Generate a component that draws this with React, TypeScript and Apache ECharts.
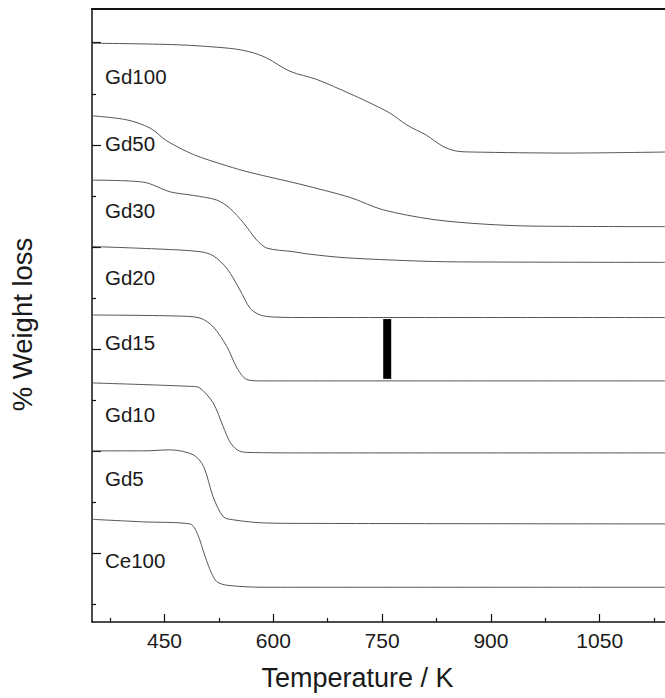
import React, { useEffect, useRef } from "react";
import * as echarts from "echarts";

// Temperature (K) vs. stacked, offset weight-loss traces (arbitrary units)
const gd100: [number, number][] = [[350, 11.33], [467, 11.3], [540, 11.23], [568, 11.16], [591, 11.04], [623, 10.78], [660, 10.62], [706, 10.34], [729, 10.19], [761, 9.96], [784, 9.73], [811, 9.53], [834, 9.31], [852, 9.22], [875, 9.2], [1004, 9.18], [1140, 9.2]];
const gd50: [number, number][] = [[350, 9.91], [398, 9.83], [430, 9.67], [453, 9.42], [490, 9.15], [536, 8.93], [568, 8.8], [637, 8.57], [706, 8.31], [751, 8.07], [820, 7.88], [889, 7.79], [958, 7.75], [1140, 7.74]];
const gd30: [number, number][] = [[350, 8.65], [421, 8.61], [458, 8.42], [490, 8.35], [522, 8.26], [540, 8.1], [559, 7.81], [577, 7.48], [591, 7.32], [627, 7.25], [650, 7.2], [700, 7.13], [792, 7.07], [852, 7.05], [1140, 7.04]];
const gd20: [number, number][] = [[350, 7.35], [444, 7.3], [499, 7.25], [517, 7.17], [536, 6.92], [554, 6.5], [568, 6.14], [582, 6.01], [600, 5.97], [650, 5.96], [1140, 5.96]];
const gd15: [number, number][] = [[350, 6.01], [467, 5.99], [499, 5.95], [517, 5.78], [536, 5.39], [550, 4.97], [563, 4.75], [582, 4.72], [1140, 4.72]];
const gd10: [number, number][] = [[350, 4.68], [490, 4.61], [499, 4.58], [517, 4.29], [531, 3.82], [540, 3.53], [550, 3.37], [563, 3.32], [650, 3.31], [1140, 3.31]];
const gd5: [number, number][] = [[350, 3.35], [421, 3.35], [458, 3.37], [490, 3.27], [504, 3.04], [517, 2.45], [531, 2.06], [545, 2.0], [586, 1.94], [650, 1.93], [1140, 1.92]];
const ce100: [number, number][] = [[350, 2.01], [421, 1.96], [485, 1.92], [495, 1.74], [506, 1.28], [515, 0.95], [522, 0.79], [536, 0.72], [586, 0.68], [1140, 0.68]];
const scaleBar: [number, number][] = [[757, 4.76], [757, 5.93]];

const seriesNames = ["Gd100", "Gd50", "Gd30", "Gd20", "Gd15", "Gd10", "Gd5", "Ce100"];
const seriesData = [gd100, gd50, gd30, gd20, gd15, gd10, gd5, ce100];

const xMajorTicks = [450, 600, 750, 900, 1050];
const xMinorTicks = [375, 525, 675, 825, 975, 1125];
const yMajorTicks = [1.34, 3.34, 5.34, 7.34, 9.34, 11.34];
const yMinorTicks = [0.34, 2.34, 4.34, 6.34, 8.34, 10.34];

const labelTops = [78, 145, 212, 279, 344, 416, 480, 562];

const FONT = "'Liberation Sans', Arial, Helvetica, sans-serif";

export default function App() {
  const ref = useRef<HTMLDivElement>(null);
  useEffect(() => {
    if (!ref.current) return;
    const chart = echarts.init(ref.current, null, { renderer: "svg" });
    const axisLine = { show: true, lineStyle: { color: "#111", width: 1.5 } };
    const xBase = { type: "value", min: 350, max: 1140, splitLine: { show: false } };
    const yBase = { type: "value", min: 0, max: 12, splitLine: { show: false } };
    chart.setOption({
      animation: false,
      backgroundColor: "#fff",
      grid: { left: 91, top: 9, right: 0, bottom: 76 },
      xAxis: [
        {
          ...xBase,
          position: "bottom",
          axisLine,
          axisTick: { show: true, inside: true, length: 8, customValues: xMajorTicks, lineStyle: { color: "#111", width: 1.2 } },
          axisLabel: { show: true, customValues: xMajorTicks, margin: 8, fontSize: 21, color: "#1a1a1a", fontFamily: FONT, formatter: (v: number) => String(v) },
          name: "Temperature / K",
          nameLocation: "middle",
          nameGap: 42,
          nameTextStyle: { fontSize: 27, color: "#1a1a1a", fontFamily: FONT, padding: [0, 42, 0, 0] },
        },
        {
          ...xBase,
          position: "bottom",
          axisLine: { show: false },
          axisTick: { show: true, inside: true, length: 4, customValues: xMinorTicks, lineStyle: { color: "#111", width: 1.2 } },
          axisLabel: { show: false },
        },
        {
          ...xBase,
          position: "top",
          axisLine: { show: true, lineStyle: { color: "#111", width: 2 } },
          axisTick: { show: false },
          axisLabel: { show: false },
        },
      ],
      yAxis: [
        {
          ...yBase,
          position: "left",
          axisLine,
          axisTick: { show: true, inside: true, length: 9, customValues: yMajorTicks, lineStyle: { color: "#111", width: 1.2 } },
          axisLabel: { show: false },
          name: "% Weight loss",
          nameLocation: "middle",
          nameRotate: 90,
          nameGap: 56,
          nameTextStyle: { fontSize: 27.5, color: "#1a1a1a", fontFamily: FONT, padding: [0, 18, 0, 0] },
        },
        {
          ...yBase,
          position: "left",
          axisLine: { show: false },
          axisTick: { show: true, inside: true, length: 4, customValues: yMinorTicks, lineStyle: { color: "#111", width: 1.2 } },
          axisLabel: { show: false },
        },
      ],
      series: [
        ...seriesData.map((d, i) => ({
          name: seriesNames[i],
          type: "line",
          data: d,
          xAxisIndex: 0,
          yAxisIndex: 0,
          showSymbol: false,
          smooth: 0.3,
          lineStyle: { color: "#555", width: 1 },
        })),
        {
          name: "scale",
          type: "line",
          data: scaleBar,
          showSymbol: false,
          lineStyle: { color: "#000", width: 8, cap: "butt" },
        },
      ],
      graphic: seriesNames.map((n, i) => ({
        type: "text",
        left: 105,
        top: labelTops[i] - 12,
        style: { text: n, fontSize: 20.5, fill: "#1a1a1a", fontFamily: FONT },
      })),
    });
    return () => chart.dispose();
  }, []);
  return <div ref={ref} style={{ position: "absolute", left: 0, top: 0, width: 665, height: 698 }} />;
}
